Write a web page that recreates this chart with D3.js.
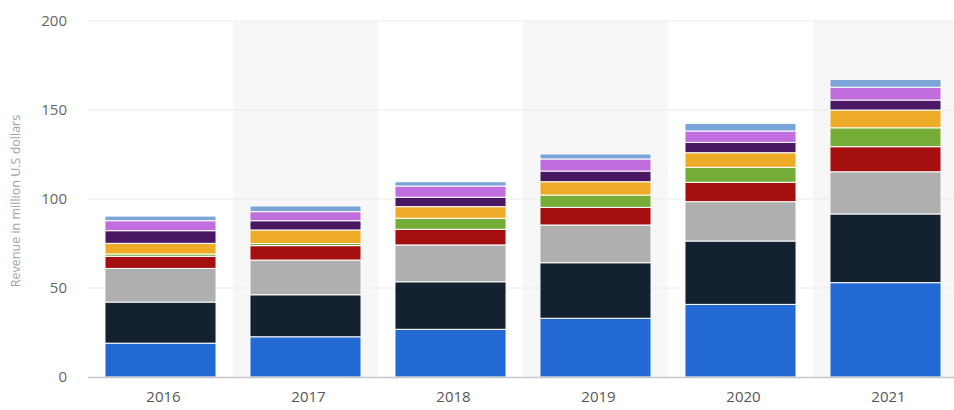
<!DOCTYPE html>
<html>
<head>
<meta charset="utf-8">
<script src="https://cdn.jsdelivr.net/npm/d3@7"></script>
<style>
  html, body { margin: 0; padding: 0; background: #fff; }
  svg { display: block; font-family: "Open Sans", "Noto Sans", sans-serif; }
</style>
</head>
<body>
<svg id="chart" width="954" height="410"></svg>
<script>
// Years on the x axis
const years = ["2016", "2017", "2018", "2019", "2020", "2021"];

// Revenue by segment, million U.S. dollars (stacked bottom to top)
const seriesA = [19.0, 22.6, 26.8, 33.0, 40.8, 53.0];
const seriesB = [23.1, 23.6, 26.7, 31.2, 35.6, 38.6];
const seriesC = [18.9, 19.5, 20.7, 21.2, 22.1, 23.7];
const seriesD = [6.8, 8.1, 8.8, 9.9, 10.9, 14.1];
const seriesE = [1.3, 1.2, 6.2, 6.9, 8.4, 10.6];
const seriesF = [6.0, 7.6, 6.5, 7.5, 8.2, 10.0];
const seriesG = [7.1, 5.2, 5.3, 6.0, 5.8, 5.6];
const seriesH = [5.6, 5.1, 6.3, 6.8, 6.4, 7.2];
const seriesI = [2.6, 3.2, 2.4, 2.8, 4.3, 4.4];

const yTicks = [0, 50, 100, 150, 200];
const yTitle = "Revenue in million U.S dollars";

const keys = ["A", "B", "C", "D", "E", "F", "G", "H", "I"];
const colors = ["#2369d4", "#142131", "#afafaf", "#a50f10", "#76ad38",
                "#eeab27", "#4a1862", "#c06ddd", "#7ba4d8"];
const seriesList = [seriesA, seriesB, seriesC, seriesD, seriesE,
                    seriesF, seriesG, seriesH, seriesI];

const rows = years.map((yr, i) => {
  const r = { year: yr };
  keys.forEach((k, j) => { r[k] = seriesList[j][i]; });
  return r;
});

const svg = d3.select("#chart");
const plotLeft = 88, plotRight = 958, plotTop = 21, plotBottom = 377;

const x = d3.scaleBand().domain(years).range([plotLeft, plotRight])
  .paddingInner(0.234).paddingOuter(0.117);
const y = d3.scaleLinear().domain([0, 200]).range([plotBottom, plotTop]);

// alternating column shading
const step = x.step();
svg.append("g").selectAll("rect")
  .data(years.filter((d, i) => i % 2 === 1))
  .join("rect")
  .attr("x", d => x(d) - x.paddingInner() * step / 2)
  .attr("y", plotTop)
  .attr("width", step)
  .attr("height", plotBottom - plotTop)
  .attr("fill", "#f7f7f7");

// horizontal gridlines
svg.append("g").selectAll("line")
  .data(yTicks.filter(t => t > 0))
  .join("line")
  .attr("x1", plotLeft).attr("x2", 954)
  .attr("y1", d => y(d)).attr("y2", d => y(d))
  .attr("stroke", "#ececec").attr("stroke-width", 1);

// stacked bars
const stacked = d3.stack().keys(keys)(rows);
svg.append("g").selectAll("g")
  .data(stacked)
  .join("g")
  .attr("fill", (d, i) => colors[i])
  .selectAll("rect")
  .data(d => d)
  .join("rect")
  .attr("x", d => x(d.data.year))
  .attr("width", x.bandwidth())
  .attr("y", d => y(d[1]))
  .attr("height", d => y(d[0]) - y(d[1]))
  .attr("stroke", "#fff")
  .attr("stroke-width", 1);

// baseline
svg.append("line")
  .attr("x1", plotLeft).attr("x2", 954)
  .attr("y1", y(0) + 0.5).attr("y2", y(0) + 0.5)
  .attr("stroke", "#c8c8c8").attr("stroke-width", 1.5);

// y axis
const yAxis = d3.axisLeft(y).tickValues(yTicks).tickSize(0).tickPadding(0);
const gy = svg.append("g").attr("transform", "translate(67,0)").call(yAxis);
gy.select(".domain").remove();
gy.selectAll("text")
  .attr("font-size", 15)
  .attr("fill", "#666")
  .attr("font-family", "\"Open Sans\", sans-serif");

// x axis
const xAxis = d3.axisBottom(x).tickSize(0).tickPadding(0);
const gx = svg.append("g").attr("transform", `translate(3,${plotBottom + 14})`).call(xAxis);
gx.select(".domain").remove();
gx.selectAll("text")
  .attr("font-size", 15)
  .attr("fill", "#555")
  .attr("font-family", "\"Open Sans\", sans-serif");

// y axis title
svg.append("text")
  .attr("transform", `translate(20,${(plotTop + plotBottom) / 2 + 2}) rotate(-90)`)
  .attr("text-anchor", "middle")
  .attr("font-size", 12.5)
  .attr("fill", "#9aa4b2")
  .text(yTitle);
</script>
</body>
</html>
